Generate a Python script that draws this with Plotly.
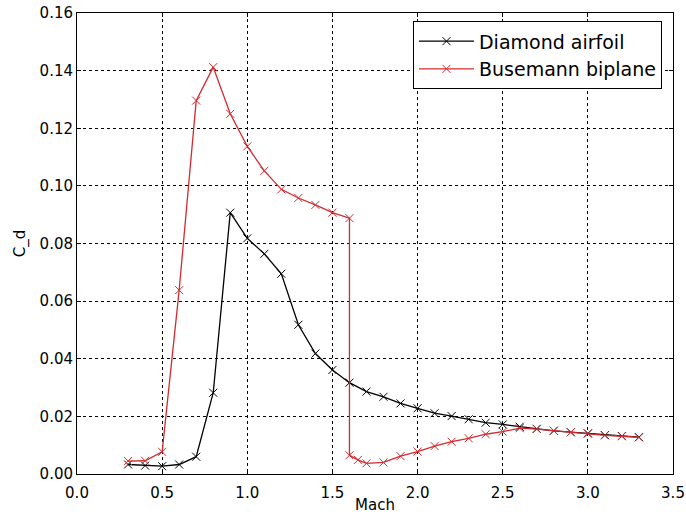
import plotly.graph_objects as go

# Drag coefficient vs Mach number for two supersonic configurations
mach_diamond = [0.3, 0.4, 0.5, 0.6, 0.7, 0.8, 0.9, 1.0, 1.1, 1.2, 1.3, 1.4, 1.5, 1.6,
                1.7, 1.8, 1.9, 2.0, 2.1, 2.2, 2.3, 2.4, 2.5, 2.6, 2.7, 2.8, 2.9, 3.0,
                3.1, 3.2, 3.3]
cd_diamond = [0.0033, 0.0029, 0.0027, 0.0033, 0.0060, 0.0282, 0.0907, 0.0818, 0.0764,
              0.0695, 0.0518, 0.0418, 0.0361, 0.0317, 0.0286, 0.0268, 0.0245, 0.0228,
              0.0211, 0.0201, 0.0190, 0.0178, 0.0172, 0.0164, 0.0157, 0.0150, 0.0145,
              0.0141, 0.0135, 0.0132, 0.0128]

mach_busemann = [0.3, 0.4, 0.5, 0.6, 0.7, 0.8, 0.9, 1.0, 1.1, 1.2, 1.3, 1.4, 1.5, 1.6,
                 1.6, 1.65, 1.7, 1.8, 1.9, 2.0, 2.1, 2.2, 2.3, 2.4, 2.5, 2.6, 2.7, 2.8,
                 2.9, 3.0, 3.1, 3.2, 3.3]
cd_busemann = [0.0045, 0.0046, 0.0077, 0.0638, 0.1296, 0.1412, 0.1250, 0.1137, 0.1052,
               0.0988, 0.0958, 0.0934, 0.0907, 0.0888, 0.0065, 0.0049, 0.0037, 0.0040,
               0.0062, 0.0078, 0.0097, 0.0112, 0.0124, 0.0138, 0.0147, 0.0159, 0.0156,
               0.0150, 0.0145, 0.0140, 0.0134, 0.0131, 0.0127]

x_ticks = [0.0, 0.5, 1.0, 1.5, 2.0, 2.5, 3.0, 3.5]
y_ticks = [0.00, 0.02, 0.04, 0.06, 0.08, 0.10, 0.12, 0.14, 0.16]

FONT = "DejaVu Sans"
RED = "#d42a2f"

fig = go.Figure()
fig.add_trace(go.Scatter(
    x=mach_diamond, y=cd_diamond, name="Diamond airfoil", mode="lines+markers",
    line=dict(color="black", width=1.3),
    marker=dict(symbol="x-thin", size=8, line=dict(color="black", width=1)),
))
fig.add_trace(go.Scatter(
    x=mach_busemann, y=cd_busemann, name="Busemann biplane", mode="lines+markers",
    line=dict(color=RED, width=1.3),
    marker=dict(symbol="x-thin", size=8, color=RED, line=dict(color=RED, width=1)),
))

axis_common = dict(
    showline=True, linecolor="black", linewidth=1, mirror="allticks",
    ticks="inside", ticklen=4, tickcolor="black", tickwidth=1,
    showgrid=True, gridcolor="black", gridwidth=1, griddash="dot",
    zeroline=False, automargin=False,
    tickfont=dict(family=FONT, size=15, color="black"),
)

fig.update_xaxes(
    range=[0, 3.5], tickvals=x_ticks, ticktext=[f"{v:.1f}" for v in x_ticks],
    ticklabelstandoff=5,
    title=dict(text="Mach", font=dict(family=FONT, size=15, color="black"), standoff=2),
    **axis_common,
)
fig.update_yaxes(
    range=[0, 0.16], tickvals=y_ticks, ticktext=[f"{v:.2f}" for v in y_ticks],
    title=dict(text="C_d", font=dict(family=FONT, size=15, color="black"), standoff=10),
    **axis_common,
)

fig.update_layout(
    width=686, height=514,
    margin=dict(l=77, r=13, t=13, b=40),
    paper_bgcolor="white", plot_bgcolor="white",
    font=dict(family=FONT, color="black"),
    legend=dict(
        x=0.9815, y=0.982, xanchor="right", yanchor="top",
        bgcolor="white", bordercolor="black", borderwidth=1,
        font=dict(family=FONT, size=19, color="black"),
        tracegroupgap=0, itemwidth=55,
    ),
)

fig.write_html("out.html")
